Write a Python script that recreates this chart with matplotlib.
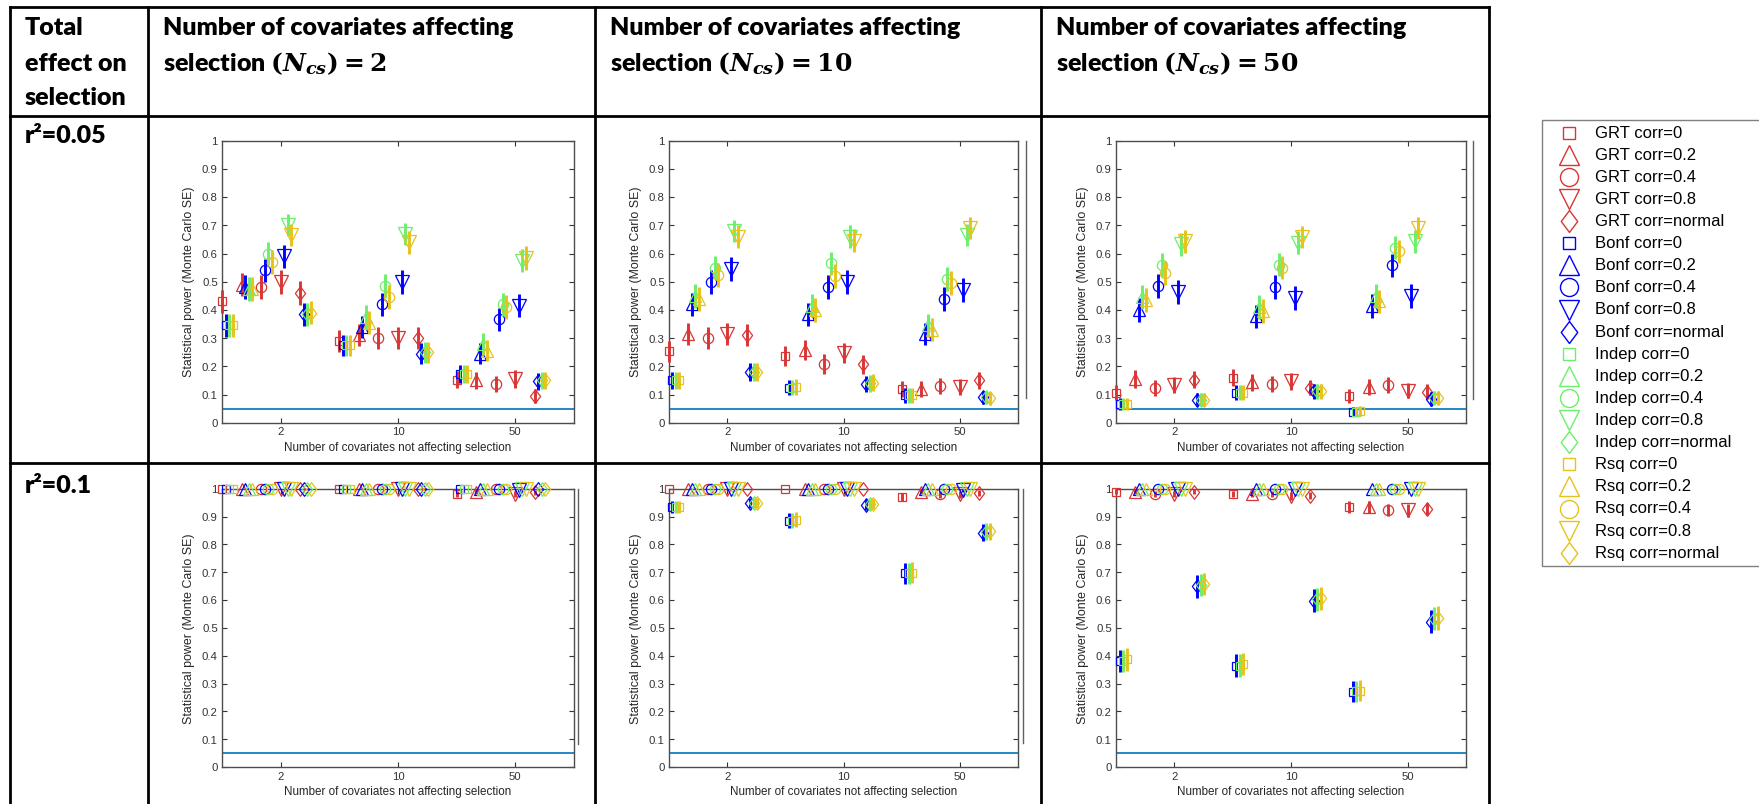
import numpy as np
import matplotlib
matplotlib.use('Agg')
import matplotlib.pyplot as plt
from matplotlib.path import Path
from matplotlib.patches import Rectangle

# ---------------- data ----------------
x_tick_labels = ['2', '10', '50']          # covariates not affecting selection
methods = ['GRT', 'Bonf', 'Indep', 'Rsq']
corr_levels = ['0', '0.2', '0.4', '0.8', 'normal']
row_labels = ['r\u00b2=0.05', 'r\u00b2=0.1']
ncs_values = ['2', '10', '50']
N_SIM = 140   # Monte Carlo replicates implied by the error bar lengths

# each list: rows = corr 0, 0.2, 0.4, 0.8, normal ; columns = 2, 10, 50 non-affecting covariates
# r2 = 0.05, Ncs = 2
r005_n2_grt = [[0.43, 0.29, 0.153], [0.49, 0.31, 0.15], [0.48, 0.30, 0.137], [0.50, 0.30, 0.155], [0.46, 0.30, 0.095]]
r005_n2_bonf = [[0.345, 0.275, 0.172], [0.48, 0.34, 0.245], [0.54, 0.42, 0.367], [0.59, 0.50, 0.415], [0.385, 0.245, 0.148]]
r005_n2_indep = [[0.345, 0.275, 0.172], [0.475, 0.375, 0.28], [0.60, 0.485, 0.42], [0.70, 0.67, 0.575], [0.385, 0.25, 0.15]]
r005_n2_rsq = [[0.345, 0.275, 0.172], [0.475, 0.355, 0.255], [0.57, 0.445, 0.41], [0.665, 0.64, 0.585], [0.39, 0.25, 0.15]]
# r2 = 0.05, Ncs = 10
r005_n10_grt = [[0.254, 0.237, 0.12], [0.315, 0.258, 0.12], [0.30, 0.208, 0.13], [0.315, 0.247, 0.128], [0.31, 0.207, 0.15]]
r005_n10_bonf = [[0.15, 0.125, 0.097], [0.42, 0.385, 0.315], [0.50, 0.48, 0.44], [0.545, 0.50, 0.47], [0.18, 0.137, 0.09]]
r005_n10_indep = [[0.15, 0.125, 0.097], [0.45, 0.415, 0.345], [0.55, 0.565, 0.51], [0.68, 0.66, 0.665], [0.18, 0.14, 0.09]]
r005_n10_rsq = [[0.15, 0.128, 0.097], [0.44, 0.40, 0.33], [0.525, 0.52, 0.495], [0.66, 0.645, 0.69], [0.18, 0.142, 0.087]]
# r2 = 0.05, Ncs = 50
r005_n50_grt = [[0.107, 0.16, 0.096], [0.155, 0.143, 0.127], [0.123, 0.137, 0.134], [0.135, 0.148, 0.113], [0.152, 0.125, 0.11]]
r005_n50_bonf = [[0.066, 0.107, 0.039], [0.40, 0.378, 0.414], [0.485, 0.482, 0.558], [0.465, 0.443, 0.45], [0.081, 0.111, 0.084]]
r005_n50_indep = [[0.066, 0.107, 0.039], [0.445, 0.41, 0.45], [0.56, 0.561, 0.62], [0.632, 0.638, 0.644], [0.081, 0.111, 0.088]]
r005_n50_rsq = [[0.066, 0.107, 0.042], [0.435, 0.396, 0.43], [0.53, 0.55, 0.608], [0.644, 0.658, 0.689], [0.081, 0.111, 0.088]]
# r2 = 0.1, Ncs = 2
r01_n2_grt = [[1.0, 1.0, 0.982], [1.0, 1.0, 0.99], [1.0, 1.0, 1.0], [1.0, 1.0, 0.983], [1.0, 1.0, 0.988]]
r01_n2_bonf = [[1.0, 1.0, 1.0], [1.0, 1.0, 1.0], [1.0, 1.0, 1.0], [1.0, 1.0, 0.995], [1.0, 1.0, 1.0]]
r01_n2_indep = [[1.0, 1.0, 1.0], [1.0, 1.0, 1.0], [1.0, 1.0, 1.0], [1.0, 1.0, 1.0], [1.0, 1.0, 1.0]]
r01_n2_rsq = [[1.0, 1.0, 1.0], [1.0, 1.0, 1.0], [1.0, 1.0, 1.0], [1.0, 1.0, 1.0], [1.0, 1.0, 1.0]]
# r2 = 0.1, Ncs = 10
r01_n10_grt = [[1.0, 1.0, 0.97], [1.0, 1.0, 0.99], [1.0, 1.0, 0.98], [1.0, 1.0, 0.98], [1.0, 1.0, 0.985]]
r01_n10_bonf = [[0.934, 0.886, 0.696], [1.0, 1.0, 1.0], [1.0, 1.0, 1.0], [1.0, 1.0, 0.995], [0.949, 0.943, 0.843]]
r01_n10_indep = [[0.934, 0.886, 0.696], [1.0, 1.0, 1.0], [1.0, 1.0, 1.0], [1.0, 1.0, 1.0], [0.949, 0.945, 0.846]]
r01_n10_rsq = [[0.934, 0.889, 0.699], [1.0, 1.0, 1.0], [1.0, 1.0, 1.0], [1.0, 1.0, 1.0], [0.949, 0.946, 0.847]]
# r2 = 0.1, Ncs = 50
r01_n50_grt = [[0.99, 0.982, 0.934], [0.99, 0.982, 0.934], [0.982, 0.982, 0.925], [0.982, 0.974, 0.923], [0.99, 0.976, 0.929]]
r01_n50_bonf = [[0.381, 0.364, 0.27], [1.0, 1.0, 1.0], [1.0, 1.0, 1.0], [1.0, 1.0, 1.0], [0.649, 0.597, 0.523]]
r01_n50_indep = [[0.381, 0.364, 0.272], [1.0, 1.0, 1.0], [1.0, 1.0, 1.0], [1.0, 1.0, 1.0], [0.655, 0.603, 0.533]]
r01_n50_rsq = [[0.387, 0.37, 0.274], [1.0, 1.0, 1.0], [1.0, 1.0, 1.0], [1.0, 1.0, 1.0], [0.659, 0.607, 0.535]]

panels = [
    [[r005_n2_grt, r005_n2_bonf, r005_n2_indep, r005_n2_rsq],
     [r005_n10_grt, r005_n10_bonf, r005_n10_indep, r005_n10_rsq],
     [r005_n50_grt, r005_n50_bonf, r005_n50_indep, r005_n50_rsq]],
    [[r01_n2_grt, r01_n2_bonf, r01_n2_indep, r01_n2_rsq],
     [r01_n10_grt, r01_n10_bonf, r01_n10_indep, r01_n10_rsq],
     [r01_n50_grt, r01_n50_bonf, r01_n50_indep, r01_n50_rsq]],
]

# ---------------- style ----------------
W, H, DPI = 1759, 804, 100
plt.rcParams['font.family'] = ['Liberation Sans', 'DejaVu Sans']
plt.rcParams['mathtext.fontset'] = 'custom'
plt.rcParams['mathtext.rm'] = 'DejaVu Serif:bold'
plt.rcParams['mathtext.it'] = 'DejaVu Serif:italic:bold'
plt.rcParams['mathtext.bf'] = 'DejaVu Serif:bold'

method_colors = ['#d93535', '#0000ff', '#6cef6c', '#e6c31c']
diamond = Path([(0, 1), (0.75, 0), (0, -1), (-0.75, 0), (0, 1)],
               [Path.MOVETO, Path.LINETO, Path.LINETO, Path.LINETO, Path.CLOSEPOLY])
marker_shapes = ['s', '^', 'o', 'v', diamond]
panel_ms = [6.4, 8.6, 7.4, 9.6, 9.8]
legend_ms = [8.6, 14.4, 13.0, 14.4, 15.8]
type_offset = [-0.5, -1/3, -1/6, 0.0, 1/6]
method_offset = 0.03

fig = plt.figure(figsize=(W / DPI, H / DPI + 0.004), dpi=DPI)
bg = fig.add_axes([0, 0, 1, 1], zorder=0)
bg.set_xlim(0, W)
bg.set_ylim(H, 0)
bg.axis('off')

# table grid
tlw = 2.0
for xv in [10, 148, 595, 1041, 1489]:
    bg.plot([xv, xv], [7, H + 5], color='black', lw=tlw, solid_capstyle='projecting')
for yv in [7, 116, 463]:
    bg.plot([10, 1489], [yv, yv], color='black', lw=tlw, solid_capstyle='projecting')

hdr = dict(fontsize=18, fontweight='heavy', family=['Lato', 'DejaVu Sans'], va='baseline', ha='left', color='black')
for txt, yb in zip(['Total', 'effect on', 'selection'], [35, 71, 105]):
    bg.text(25, yb, txt, **hdr)
for col_x, n in zip([163, 610, 1056], ncs_values):
    bg.text(col_x, 35, 'Number of covariates affecting', **hdr)
    bg.text(col_x, 71, 'selection $(N_{cs}) = ' + n + '$', **hdr)
for lab, yb in zip(row_labels, [143, 493]):
    bg.text(25, yb, lab, **hdr)

# panel positions in pixels: (left, right, top, bottom)
col_lr = [(222, 574), (669, 1018), (1116, 1466)]
row_tb = [(141, 423), (489, 767)]

for r in range(2):
    for c in range(3):
        L, R = col_lr[c]
        T, B = row_tb[r]
        ax = fig.add_axes([L / W, 1 - B / H, (R - L) / W, (B - T) / H], zorder=2)
        ax.set_facecolor('none')
        ax.axhline(0.05, color='#0072bd', lw=1.2, zorder=1)
        for m, series in enumerate(panels[r][c]):
            col = method_colors[m]
            for k in range(5):
                ys = np.array(series[k], dtype=float)
                xs = np.arange(1, 4) + type_offset[k] + m * method_offset
                err = np.sqrt(ys * (1 - ys) / N_SIM)
                ax.errorbar(xs, ys, yerr=err, fmt='none', ecolor=col, elinewidth=2.1,
                            capsize=0, zorder=3, clip_on=False)
                ax.plot(xs, ys, ls='none', marker=marker_shapes[k], ms=panel_ms[k],
                        mfc='none', mec=col, mew=0.9, zorder=3, clip_on=False)
        ax.set_xlim(0.5, 3.5)
        ax.set_ylim(0, 1)
        ax.set_xticks([1, 2, 3])
        ax.set_xticklabels(x_tick_labels)
        yt = np.round(np.arange(0, 1.01, 0.1), 1)
        ax.set_yticks(yt)
        ax.set_yticklabels([f'{v:g}' for v in yt])
        ax.tick_params(direction='in', top=True, right=True, length=3.5, width=0.8,
                       colors='#333333', labelsize=8.2, pad=3)
        for sp in ax.spines.values():
            sp.set_color('#4d4d4d')
            sp.set_linewidth(1.0)
        ax.set_ylabel('Statistical power (Monte Carlo SE)', fontsize=8.9, color='#262626')
        ax.set_xlabel('Number of covariates not affecting selection', fontsize=8.4, color='#262626')
        ax.yaxis.set_label_coords(-33 / (R - L), 0.5)
        ax.xaxis.set_label_coords(0.5, -25 / (B - T))
        ax.yaxis.label.set_va('center')
        ax.xaxis.label.set_va('center')

# stray vertical lines at the right of some panels (cropped legend edges)
for xv, y0, y1 in [(1026, 141, 398), (1473, 141, 399), (578, 489, 744), (1023, 489, 743)]:
    bg.plot([xv, xv], [y0, y1], color='#606060', lw=1.0)

# legend
bg.add_patch(Rectangle((1542, 120), 400, 446, fill=False, edgecolor='#808080', lw=1.0))
i = 0
for m, meth in enumerate(methods):
    for k, cl in enumerate(corr_levels):
        yy = 133 + i * 22.1
        bg.plot([1569], [yy], ls='none', marker=marker_shapes[k], ms=legend_ms[k],
                mfc='none', mec=method_colors[m], mew=1.0)
        bg.text(1595, yy, f'{meth} corr={cl}', fontsize=12, va='center', ha='left', color='black')
        i += 1

fig.savefig('out.png', dpi=DPI)
